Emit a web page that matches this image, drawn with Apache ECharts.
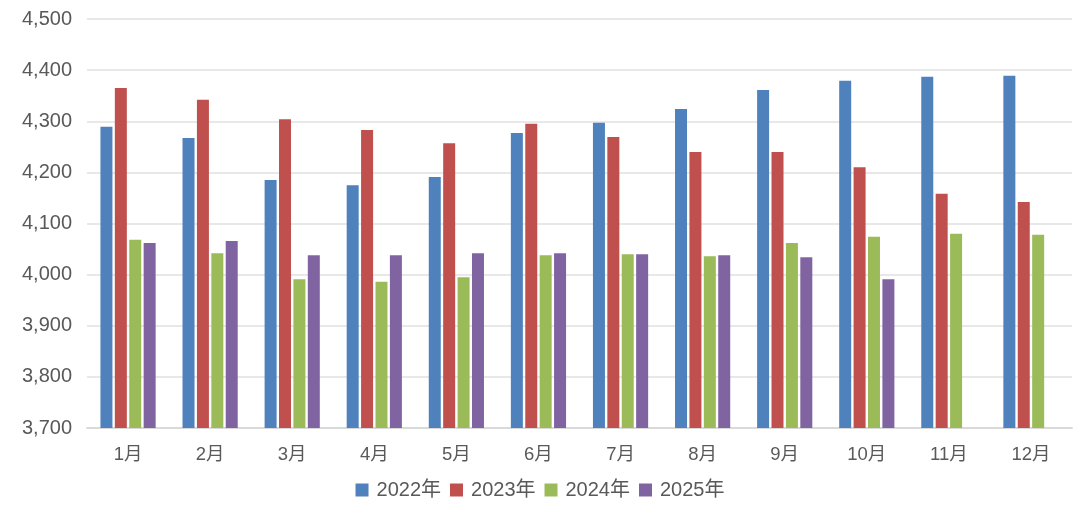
<!DOCTYPE html>
<html><head><meta charset="utf-8">
<script src="https://cdn.jsdelivr.net/npm/echarts@6/dist/echarts.min.js"></script>
<style>html,body{margin:0;padding:0;background:#fff}#c{width:1080px;height:522px}</style>
</head><body><div id="c"></div>
<script>
var categories = ['1月','2月','3月','4月','5月','6月','7月','8月','9月','10月','11月','12月'];
var seriesNames = ['2022年','2023年','2024年','2025年'];
var v2022 = [4289,4267,4185,4175,4191,4277,4297,4324,4361,4379,4387,4389];
var v2023 = [4365,4342,4304,4283,4257,4295,4269,4240,4240,4210,4158,4142];
var v2024 = [4068,4042,3991,3986,3995,4038,4040,4036,4062,4074,4080,4078];
var v2025 = [4062,4066,4038,4038,4042,4042,4040,4038,4034,3991,null,null];
var colors = ['#4f81bd','#c0504d','#9bbb59','#8064a2'];
var font = '"Liberation Sans","Noto Sans CJK SC",sans-serif';
var data = [v2022,v2023,v2024,v2025];
var chart = echarts.init(document.getElementById('c'));
chart.setOption({
  animation:false,
  color: colors,
  grid:{left:87,right:8,top:19,bottom:94},
  legend:{
    top:475, left:'center', itemWidth:13, itemHeight:13, itemGap:9,
    icon:'rect',
    textStyle:{color:'#595959',fontSize:20,fontFamily:font,padding:[0,0,0,3]},
    data: seriesNames
  },
  xAxis:{type:'category',data:categories,
    axisLine:{lineStyle:{color:'#d9d9d9',width:2}},axisTick:{show:false},
    axisLabel:{color:'#595959',fontSize:18.5,fontFamily:font,margin:18}},
  yAxis:{type:'value',min:3700,max:4500,interval:100,
    axisLine:{show:false},axisTick:{show:false},
    splitLine:{lineStyle:{color:'#e0e0e0',width:1.5}},
    axisLabel:{color:'#595959',fontSize:20,fontFamily:font,margin:15,
      formatter:function(v){return v.toLocaleString('en-US');}}},
  series: seriesNames.map(function(n,i){
    return {name:n,type:'bar',data:data[i],barWidth:12,barGap:'20%'};
  })
});
</script></body></html>
